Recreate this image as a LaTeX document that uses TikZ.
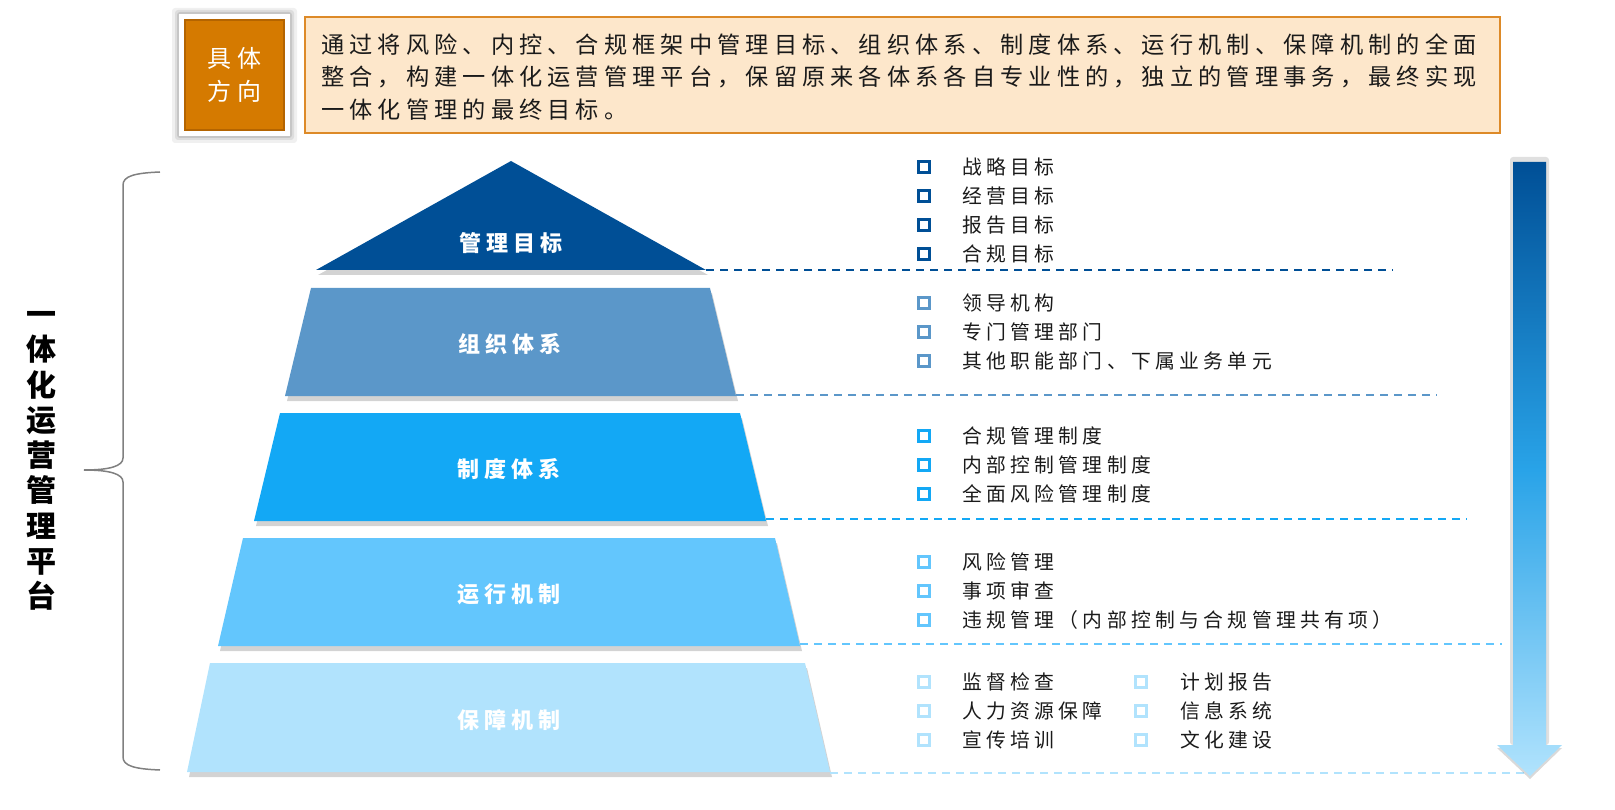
\documentclass[tikz,border=0pt]{standalone}
\usepackage{fontspec}
\setmainfont{Noto Sans CJK SC}
\newfontfamily\cjk[LetterSpace=22]{Noto Sans CJK SC}
\usetikzlibrary{shadows}
\definecolor{c1}{HTML}{004F96}
\definecolor{c2}{HTML}{5B97C9}
\definecolor{c3}{HTML}{13A8F5}
\definecolor{c4}{HTML}{63C6FD}
\definecolor{c5}{HTML}{B1E3FD}
\definecolor{orng}{HTML}{D57A00}
\definecolor{orngdark}{HTML}{B46400}
\definecolor{peach}{HTML}{FDE7CB}
\definecolor{peachline}{HTML}{DD8A28}
\definecolor{txt}{HTML}{1A1A1A}
\definecolor{bracegray}{HTML}{808080}
\begin{document}
\begin{tikzpicture}[x=1pt,y=-1pt,
  tier/.style={fill=#1, drop shadow={shadow xshift=2pt, shadow yshift=-5pt, opacity=0.35}},
  tierlabel/.style={text=white, font=\cjk\bfseries\fontsize{22}{26}\selectfont, inner sep=0},
  dashline/.style={draw=#1, line width=2pt, dash pattern=on 8pt off 6pt},
  bul/.style={draw=#1, line width=3.2pt, minimum size=11pt, inner sep=0, outer sep=0},
  itemtext/.style={anchor=west, text=txt, font=\cjk\fontsize{19.8}{23}\selectfont, inner sep=0},
  glow/.style={fill=black, opacity=#1, rounded corners=3pt}]
\useasboundingbox (0,0) rectangle (1615,810);

% ---------- top: direction ----------
\path[glow=0.06] (172,8) rectangle (297,143);
\path[glow=0.08] (175,10) rectangle (294,140);
\path[glow=0.10] (177,12) rectangle (292,138);
\path[fill=white] (179,14) rectangle (290,136);
\node[draw=orngdark, line width=1.5pt, fill=orng, minimum width=99pt, minimum height=110pt, inner sep=0,
      text=white, align=center, font=\cjk\fontsize{24}{33}\selectfont] (dir) at (234.5,75) {具体\\方向};
\node[draw=peachline, line width=2pt, fill=peach, minimum width=1195pt, minimum height=116pt, inner sep=0] (descbox) at (902.5,75) {};
\node[anchor=west, inner sep=0, align=left, text=txt, font=\cjk\fontsize{23.2}{32.5}\selectfont] (desc) at (321,77)
  {通过将风险、内控、合规框架中管理目标、组织体系、制度体系、运行机制、保障机制的全面\\
   整合，构建一体化运营管理平台，保留原来各体系各自专业性的，独立的管理事务，最终实现\\
   一体化管理的最终目标。};

% ---------- left: brace and title ----------
\node[inner sep=0, align=center, text=black, font=\bfseries\fontsize{30}{35.3}\selectfont] (title) at (42,461)
  {一\\体\\化\\运\\营\\管\\理\\平\\台};
\coordinate (brtop) at (160,172);
\coordinate (brbot) at (160,770);
\coordinate (brtip) at (84,470);
\draw[bracegray, line width=1.5pt]
  (brtop) .. controls (135,173) and (123,176) .. (123,185)
  -- (123,458) .. controls (123,466) and (110,470) .. (brtip)
  (brtip) .. controls (110,470) and (123,474) .. (123,482)
  -- (123,757) .. controls (123,766) and (135,769) .. (brbot);

% ---------- pyramid ----------
\coordinate (p1a) at (511,161); \coordinate (p1l) at (316,270); \coordinate (p1r) at (706,270);
\path[tier=c1] (p1a) -- (p1r) -- (p1l) -- cycle;
\node[tierlabel] (t1) at (511,243) {管理目标};

\coordinate (p2r) at (736,396);
\path[tier=c2] (311,288) -- (710,288) -- (p2r) -- (285,396) -- cycle;
\node[tierlabel] (t2) at (510,344) {组织体系};

\coordinate (p3r) at (766,521);
\path[tier=c3] (280,413) -- (740,413) -- (p3r) -- (254,521) -- cycle;
\node[tierlabel] (t3) at (509,469) {制度体系};

\coordinate (p4r) at (800,646);
\path[tier=c4] (243,538) -- (775,538) -- (p4r) -- (218,646) -- cycle;
\node[tierlabel] (t4) at (509,594) {运行机制};

\coordinate (p5r) at (830,772);
\path[tier=c5] (210,663) -- (805,663) -- (p5r) -- (187,772) -- cycle;
\node[tierlabel] (t5) at (509,720) {保障机制};

% ---------- dashed separators ----------
\coordinate (d1) at (1393,270);
\coordinate (d2) at (1437,395);
\coordinate (d3) at (1467,519);
\coordinate (d4) at (1502,644);
\coordinate (d5) at (1530,773);
\draw[dashline=c1] (p1r) -- (d1);
\draw[dashline=c2] (p2r) ++(0,-1) -- (d2);
\draw[dashline=c3] (p3r) ++(0,-2) -- (d3);
\draw[dashline=c4] (p4r) ++(0,-2) -- (d4);
\draw[dashline=c5] (p5r) ++(0,1) -- (d5);

% ---------- right arrow ----------
\path[glow=0.12] (1510,157) rectangle (1549,745);
\path[top color=c1, bottom color=c5, middle color=c3!70!c2,
      drop shadow={shadow xshift=0pt, shadow yshift=-3pt, opacity=0.3}]
  (1513,162) -- (1546,162) -- (1546,745) -- (1562,745) -- (1530,776) -- (1497,745) -- (1513,745) -- cycle;

% ---------- bullet items ----------
\foreach \t [count=\i] in {战略目标,经营目标,报告目标,合规目标}{
  \node[bul=c1] (ba\i) at (924,{167+29*(\i-1)}) {};
  \node[itemtext] (ia\i) at (962,{167+29*(\i-1)}) {\t};
}
\foreach \t [count=\i] in {领导机构,专门管理部门,其他职能部门、下属业务单元}{
  \node[bul=c2] (bb\i) at (924,{303+29*(\i-1)}) {};
  \node[itemtext] (ib\i) at (962,{303+29*(\i-1)}) {\t};
}
\foreach \t [count=\i] in {合规管理制度,内部控制管理制度,全面风险管理制度}{
  \node[bul=c3] (bc\i) at (924,{436+29*(\i-1)}) {};
  \node[itemtext] (ic\i) at (962,{436+29*(\i-1)}) {\t};
}
\foreach \t [count=\i] in {风险管理,事项审查,违规管理（内部控制与合规管理共有项）}{
  \node[bul=c4] (bd\i) at (924,{562+29*(\i-1)}) {};
  \node[itemtext] (id\i) at (962,{562+29*(\i-1)}) {\t};
}
\foreach \t [count=\i] in {监督检查,人力资源保障,宣传培训}{
  \node[bul=c5] (be\i) at (924,{682+29*(\i-1)}) {};
  \node[itemtext] (ie\i) at (962,{682+29*(\i-1)}) {\t};
}
\foreach \t [count=\i] in {计划报告,信息系统,文化建设}{
  \node[bul=c5] (bf\i) at (1141,{682+29*(\i-1)}) {};
  \node[itemtext] (if\i) at (1180,{682+29*(\i-1)}) {\t};
}
\end{tikzpicture}
\end{document}
